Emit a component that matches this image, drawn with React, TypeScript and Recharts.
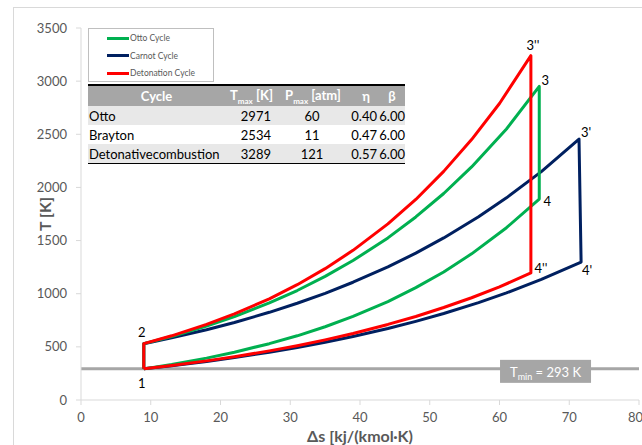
import React from 'react';
import { LineChart, Line, XAxis, YAxis, ReferenceLine, ReferenceDot } from 'recharts';

// entropy (s) and temperature (T) along each branch
const ottoUpperS = [9, 13, 18, 22, 27, 31, 35, 39, 44, 48, 52, 56, 61, 65.7];
const ottoUpperT = [530, 598, 696, 785, 913, 1030, 1163, 1312, 1525, 1722, 1943, 2193, 2550, 2950];
const ottoLowerS = [9, 13, 18, 22, 27, 31, 35, 39, 44, 48, 52, 56, 61, 65.7];
const ottoLowerT = [293, 334, 394, 450, 530, 604, 689, 786, 926, 1057, 1204, 1375, 1621, 1891];

const carnotUpperS = [9, 13, 18, 22, 27, 31, 35, 39, 44, 48, 52, 57, 61, 66, 71.4];
const carnotUpperT = [530, 585, 661, 729, 825, 910, 1004, 1108, 1252, 1382, 1525, 1724, 1902, 2149, 2455];
const carnotLowerS = [9, 13, 18, 22, 27, 31, 35, 39, 44, 48, 52, 57, 61, 66, 71.7];
const carnotLowerT = [293, 322, 363, 399, 450, 494, 543, 598, 672, 740, 814, 916, 1008, 1135, 1298];

const detUpperS = [9, 13, 18, 22, 27, 31, 35, 39, 44, 48, 52, 56, 60, 64.5];
const detUpperT = [530, 604, 711, 810, 952, 1085, 1236, 1408, 1657, 1887, 2151, 2450, 2790, 3240];
const detLowerS = [9, 13, 18, 22, 27, 31, 35, 39, 44, 48, 52, 56, 60, 64.5];
const detLowerT = [293, 324, 368, 407, 462, 511, 566, 626, 711, 786, 870, 962, 1064, 1195];

const T_MIN = 293;

const xTicks = [0, 10, 20, 30, 40, 50, 60, 70, 80];
const yTicks = [0, 500, 1000, 1500, 2000, 2500, 3000, 3500];

const pointLabels = [
  { id: '1', s: 9, T: 293 },
  { id: '2', s: 9, T: 530 },
  { id: '3', s: 65.7, T: 2950 },
  { id: '4', s: 65.7, T: 1891 },
  { id: "3'", s: 71.4, T: 2455 },
  { id: "4'", s: 71.7, T: 1298 },
  { id: "3''", s: 64.5, T: 3240 },
  { id: "4''", s: 64.5, T: 1195 },
];

const tableCycles = ['Otto', 'Brayton', 'Detonative\u200Bcombustion'];
const tableTmax = [2971, 2534, 3289];
const tablePmax = [60, 11, 121];
const tableEta = ['0.40', '0.47', '0.57'];
const tableBeta = ['6.00', '6.00', '6.00'];

const legendItems = [
  { name: 'Otto Cycle', color: '#00b050' },
  { name: 'Carnot Cycle', color: '#002060' },
  { name: 'Detonation Cycle', color: '#ff0000' },
];

// closed loop: 1 -> 2 -> upper curve -> 3 -> 4 -> lower curve back -> 1
const buildLoop = (us: number[], ut: number[], ls: number[], lt: number[]) => {
  const up = us.map((s, i) => ({ s, T: ut[i] }));
  const down = ls.map((s, i) => ({ s, T: lt[i] })).reverse();
  return [{ s: ls[0], T: lt[0] }, ...up, ...down];
};

const ottoData = buildLoop(ottoUpperS, ottoUpperT, ottoLowerS, ottoLowerT);
const carnotData = buildLoop(carnotUpperS, carnotUpperT, carnotLowerS, carnotLowerT);
const detData = buildLoop(detUpperS, detUpperT, detLowerS, detLowerT);

const labelShift: Record<string, [number, number]> = {
  '1': [-2, 14],
  '2': [-2, -12],
  '3': [6, -6],
  '4': [8, 2],
  "3'": [7, -7],
  "4'": [6, 8],
  "3''": [2, -11],
  "4''": [10, -5],
};

const FONT = 'Lato, "Open Sans", sans-serif';

const LegendBox = () => (
  <div
    style={{
      position: 'absolute',
      left: 88,
      top: 28,
      width: 124,
      height: 52,
      border: '1px solid #bfbfbf',
      background: '#fff',
      fontFamily: FONT,
      fontSize: 8.5,
      color: '#595959',
    }}
  >
    {legendItems.map((it, i) => (
      <div key={it.name} style={{ position: 'absolute', left: 18, top: 4 + i * 17.5, display: 'flex', alignItems: 'center', height: 10 }}>
        <div style={{ width: 22, height: 3, background: it.color }} />
        <span style={{ marginLeft: 1 }}>{it.name}</span>
      </div>
    ))}
  </div>
);

const cell: React.CSSProperties = { padding: 0, whiteSpace: 'nowrap', height: 19 };

export default function App() {
  return (
    <div style={{ position: 'absolute', left: 0, top: 0, width: 642, height: 445, overflow: 'hidden', background: '#fff' }}>
      <div style={{ position: 'absolute', left: 13, top: 7, width: 660, height: 460, border: '1px solid #d9d9d9' }} />
      <div style={{ position: 'absolute', left: 0, top: 0 }}>
        <LineChart width={642} height={445} margin={{ top: 28, right: 3, bottom: 0, left: 0 }}>
          <XAxis
            dataKey="s"
            type="number"
            domain={[0, 80]}
            ticks={xTicks}
            stroke="#d9d9d9"
            tickSize={5}
            tickMargin={8}
            height={45}
            tick={{ fill: '#595959', fontSize: 13, fontFamily: FONT }}
            label={{ value: '\u0394s [kj/(kmol\u00B7K)', position: 'insideBottom', offset: 3, fill: '#595959', fontSize: 16, fontWeight: 700, fontFamily: FONT }}
          />
          <YAxis
            type="number"
            domain={[0, 3500]}
            ticks={yTicks}
            stroke="#d9d9d9"
            tickSize={5}
            tickMargin={9}
            width={81}
            tick={{ fill: '#595959', fontSize: 13, fontFamily: FONT }}
            label={{
              content: () => (
                <text x={44} y={214} transform="rotate(-90 44 214)" textAnchor="middle" dominantBaseline="central" fill="#595959" fontSize={16} fontWeight={700} fontFamily={FONT}>
                  T [K]
                </text>
              ),
            }}
          />
          <ReferenceLine y={T_MIN} stroke="#a6a6a6" strokeWidth={3} />
          <Line data={carnotData} dataKey="T" type="linear" stroke="#002060" strokeWidth={3} dot={false} isAnimationActive={false} strokeLinejoin="round" />
          <Line data={ottoData} dataKey="T" type="linear" stroke="#00b050" strokeWidth={3} dot={false} isAnimationActive={false} strokeLinejoin="round" />
          <Line data={detData} dataKey="T" type="linear" stroke="#ff0000" strokeWidth={3} dot={false} isAnimationActive={false} strokeLinejoin="round" />
          <ReferenceDot
            x={66.6}
            y={T_MIN}
            r={0}
            ifOverflow="visible"
            label={{
              content: (p: any) => {
                const cx = p.viewBox.x;
                const cy = p.viewBox.y;
                return (
                  <g>
                    <rect x={cx - 45.5} y={cy - 9} width={91} height={23} fill="#a6a6a6" />
                    <text x={cx} y={cy + 8} textAnchor="middle" fill="#fff" fontSize={13} fontFamily={FONT}>
                      <tspan>T</tspan>
                      <tspan fontSize={9} dy={3}>min</tspan>
                      <tspan dy={-3}> = 293 K</tspan>
                    </text>
                  </g>
                );
              },
            }}
          />
          {pointLabels.map((pl) => (
            <ReferenceDot
              key={pl.id}
              x={pl.s}
              y={pl.T}
              r={0}
              ifOverflow="visible"
              label={{
                content: (p: any) => (
                  <text
                    x={p.viewBox.x + labelShift[pl.id][0]}
                    y={p.viewBox.y + labelShift[pl.id][1]}
                    textAnchor="middle"
                    dominantBaseline="central"
                    fontSize={13}
                    fontFamily={FONT}
                    fill="#000"
                  >
                    {pl.id}
                  </text>
                ),
              }}
            />
          ))}
        </LineChart>
      </div>
      <LegendBox />
      <table
        style={{
          position: 'absolute',
          left: 88,
          top: 84,
          width: 317,
          borderCollapse: 'collapse',
          tableLayout: 'fixed',
          fontFamily: FONT,
          fontSize: 13,
          color: '#000',
          borderTop: '2px solid #000',
          borderBottom: '1px solid #000',
        }}
      >
        <colgroup>
          <col style={{ width: 137 }} />
          <col style={{ width: 46 }} />
          <col style={{ width: 76 }} />
          <col style={{ width: 32 }} />
          <col style={{ width: 26 }} />
        </colgroup>
        <thead>
          <tr style={{ background: '#a6a6a6', color: '#fff', fontWeight: 700 }}>
            <td style={{ ...cell, height: 20, textAlign: 'center' }}>Cycle</td>
            <td style={{ ...cell, height: 20, textAlign: 'left', paddingLeft: 5, overflow: 'visible' }}>
              T<sub style={{ fontSize: 8 }}>max</sub> [K]
            </td>
            <td style={{ ...cell, height: 20, textAlign: 'center', paddingLeft: 8 }}>
              P<sub style={{ fontSize: 8 }}>max</sub> [atm]
            </td>
            <td style={{ ...cell, height: 20, textAlign: 'center', paddingLeft: 6 }}>η</td>
            <td style={{ ...cell, height: 20, textAlign: 'center' }}>β</td>
          </tr>
        </thead>
        <tbody>
          {tableCycles.map((c, i) => (
            <tr key={c} style={{ background: i === 1 ? '#fff' : '#e8e8e8' }}>
              <td style={{ ...cell, textAlign: 'left', paddingLeft: 1 }}>{c}</td>
              <td style={{ ...cell, textAlign: 'right' }}>{tableTmax[i]}</td>
              <td style={{ ...cell, textAlign: 'center', paddingLeft: 6 }}>{tablePmax[i]}</td>
              <td style={{ ...cell, textAlign: 'right', paddingRight: 2 }}>{tableEta[i]}</td>
              <td style={{ ...cell, textAlign: 'right' }}>{tableBeta[i]}</td>
            </tr>
          ))}
        </tbody>
      </table>
    </div>
  );
}
